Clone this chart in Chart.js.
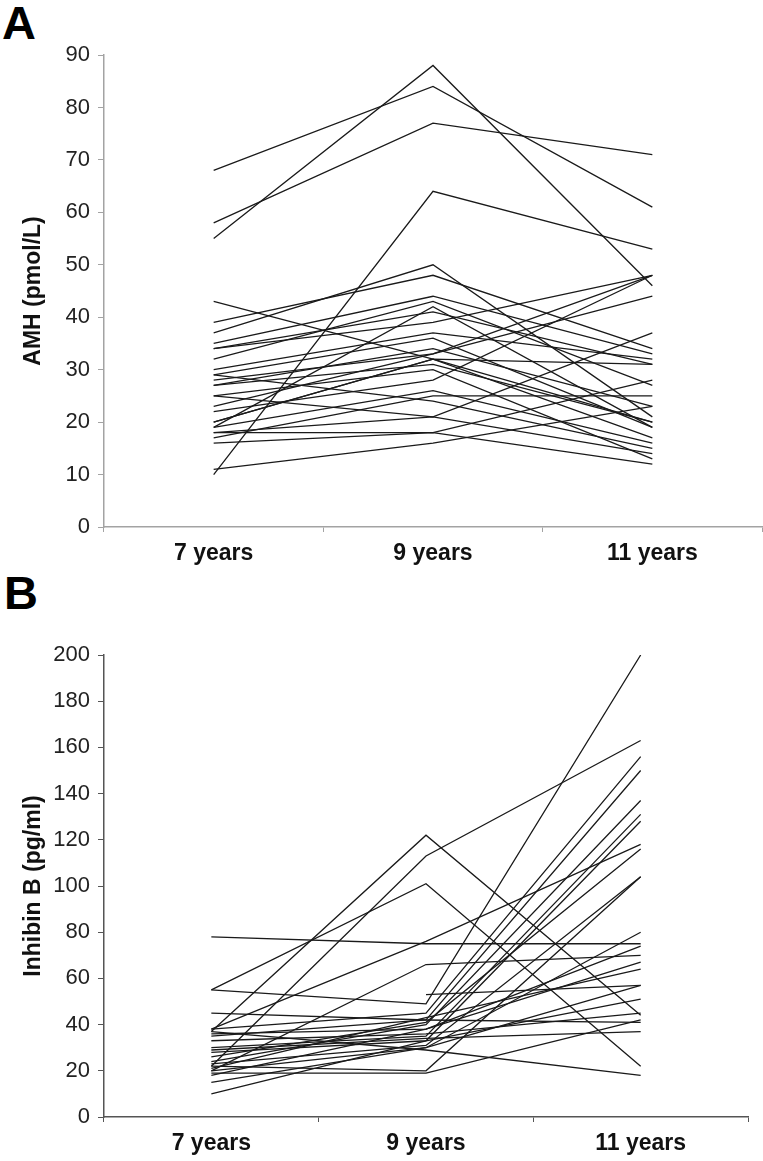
<!DOCTYPE html>
<html><head><meta charset="utf-8">
<script src="https://cdn.jsdelivr.net/npm/chart.js@4"></script>
<style>
html,body{margin:0;padding:0;background:#fff;overflow:hidden;width:763px;height:1161px}
.wrap{position:absolute;left:0}
.lab{position:absolute;font:bold 47px "Liberation Sans",Arial,sans-serif;color:#000;line-height:1}
</style></head><body>
<div class="lab" style="left:2px;top:-1px">A</div>
<div class="lab" style="left:4px;top:569px">B</div>
<div class="wrap" style="top:0"><canvas id="cA" width="763" height="580"></canvas></div>
<div class="wrap" style="top:580px"><canvas id="cB" width="763" height="581"></canvas></div>
<script>
// ---- data ----
const categories = ["7 years", "9 years", "11 years"];

// Panel A: AMH (pmol/L), one entry per girl
const amh7  = [68, 58, 55, 10, 43, 39, 37, 35, 34, 34, 32, 30, 29, 28, 27, 27, 25, 25, 23, 22, 20, 20, 19, 19, 18, 18, 17, 16, 11, 29];
const amh9  = [84, 77, 88, 64, 32, 48, 50, 44, 41, 39, 43, 37, 36, 33, 31, 34, 21, 30, 33, 28, 32, 32, 42, 26, 18, 21, 25, 18, 16, 24];
const amh11 = [61, 71, 46, 53, 20, 34, 21, 33, 31, 48, 27, 32, 19, 48, 20, 23, 37, 13, 44, 48, 17, 31, 19, 16, 28, 14, 25, 12, 23, 15];
const amhTicks = [0, 10, 20, 30, 40, 50, 60, 70, 80, 90];

// Panel B: Inhibin B (pg/ml)
const inhb7  = [78, 55, 55, 37, 22, 20, 38, 45, 38, 35, 24, 30, 28, null, 22, 23, 20, 21, 18, 15, 10, 33, 19, 29, 37, 26, 36];
const inhb9  = [75, 101, 49, 122, 113, 66, 76, 42, 45, 42, 40, 35, 33, 53, 20, 31, 30, 43, 38, 30, 33, 36, 19, 34, 29, 41, 38];
const inhb11 = [75, 22, 200, 44, 163, 70, 118, 41, 156, 150, 137, 131, 128, 57, 104, 104, 80, 64, 74, 57, 51, 45, 42, 37, 18, 116, 67];
const inhbTicks = [0, 20, 40, 60, 80, 100, 120, 140, 160, 180, 200];

// ---- build ----
const FONT = '"Liberation Sans", Arial, sans-serif';

function seriesFrom(a, b, c) {
  return a.map((v, i) => ({
    data: [a[i], b[i], c[i]],
    borderColor: '#1a1a1a',
    borderWidth: 1.3,
    pointRadius: 0,
    fill: false,
    tension: 0,
    spanGaps: false
  }));
}

function makeChart(id, ds, ticks, title, axisColor, pad, xH) {
  const max = ticks[ticks.length - 1];
  const step = ticks[1] - ticks[0];
  return new Chart(document.getElementById(id), {
    type: 'line',
    data: { labels: categories, datasets: ds },
    options: {
      responsive: false,
      animation: false,
      events: [],
      layout: { padding: pad },
      plugins: { legend: { display: false }, tooltip: { enabled: false } },
      scales: {
        x: {
          type: 'category',
          offset: true,
          grid: { offset: true, drawOnChartArea: false, drawTicks: true, tickLength: 5, color: axisColor },
          border: { display: true, color: axisColor, width: 1.5 },
          ticks: { color: '#111', padding: 8, font: { family: FONT, size: 23, weight: 'bold' } },
          afterFit: (s) => { s.height = xH; }
        },
        y: {
          min: 0, max: max,
          afterBuildTicks: (s) => { s.ticks = ticks.map(v => ({ value: v })); },
          ticks: { stepSize: step, color: '#222', padding: 8, font: { family: FONT, size: 22 } },
          grid: { drawOnChartArea: false, drawTicks: true, tickLength: 6, color: axisColor },
          border: { display: true, color: axisColor, width: 1.5 },
          title: { display: true, text: title, color: '#111', padding: { top: 20, bottom: 0 },
                   font: { family: FONT, size: 23, weight: 'bold' } },
          afterFit: (s) => { s.width = 104; }
        }
      }
    }
  });
}

makeChart('cA', seriesFrom(amh7, amh9, amh11), amhTicks, 'AMH (pmol/L)', '#a3a3a3',
          { top: 55, right: 1, bottom: 0, left: 0 }, 53);
makeChart('cB', seriesFrom(inhb7, inhb9, inhb11), inhbTicks, 'Inhibin B (pg/ml)', '#555555',
          { top: 75, right: 15, bottom: 0, left: 0 }, 44);
</script>
</body></html>
